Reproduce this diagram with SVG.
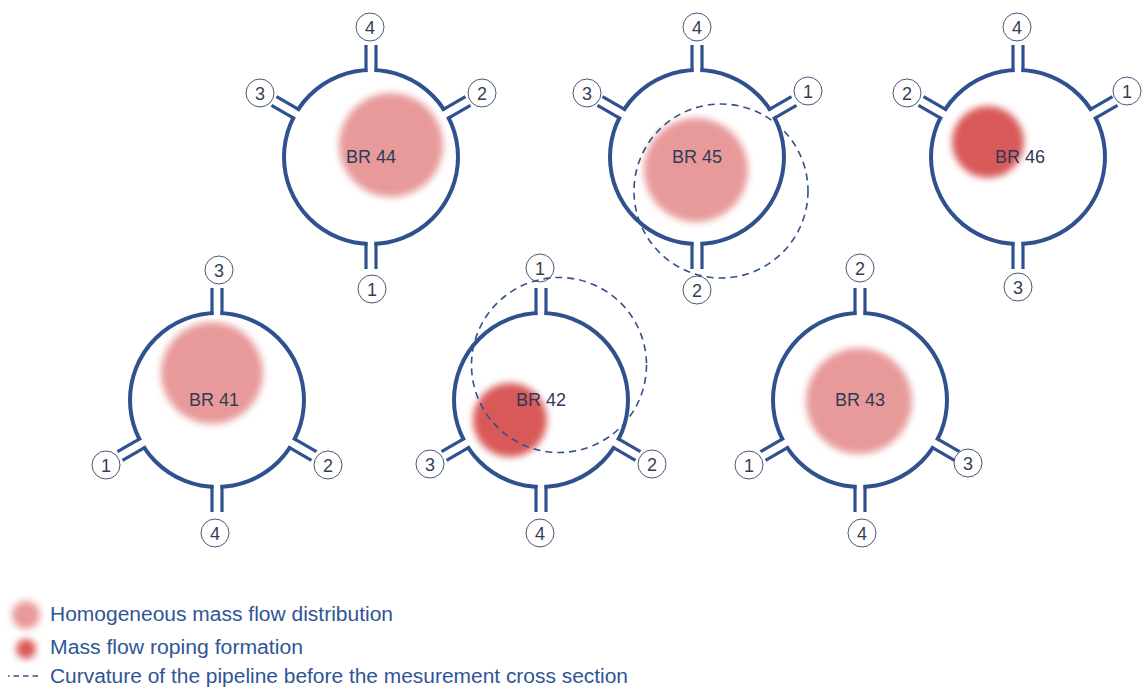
<svg xmlns="http://www.w3.org/2000/svg" xmlns:xlink="http://www.w3.org/1999/xlink" width="1143" height="688" viewBox="0 0 1143 688">
<style>
.pipe{fill:none;stroke:#2F528F;stroke-width:4}
.pl{stroke:#2F528F;stroke-width:3.2}
.lab{fill:#fff;stroke:#4A5677;stroke-width:1}
.num{font-family:"Liberation Sans",Arial,sans-serif;font-size:18px;fill:#333F50;text-anchor:middle}
.br{font-family:"Liberation Sans",Arial,sans-serif;font-size:18px;fill:#2E3A56;text-anchor:middle}
.homo{fill:#E89A9A;filter:url(#blur)}
.rope{fill:#D95858;filter:url(#blur)}
.curv{fill:none;stroke:#34508A;stroke-width:1.6;stroke-dasharray:7 5}
.leg{font-family:"Liberation Sans",Arial,sans-serif;font-size:19.5px;fill:#2F5597}
</style>
<defs>
<filter id="blur" x="-30%" y="-30%" width="160%" height="160%"><feGaussianBlur stdDeviation="3.5"/></filter>
<g id="port">
<rect x="-3.5" y="-93" width="7" height="12" fill="#fff"/>
<line class="pl" x1="-5" y1="-85" x2="-5" y2="-112"/>
<line class="pl" x1="5" y1="-85" x2="5" y2="-112"/>
</g>
</defs>
<rect width="1143" height="688" fill="#fff"/>

<g id="br44">
<circle class="homo" cx="391" cy="145" r="52"/>
<circle class="pipe" cx="371" cy="157" r="87"/>
<use xlink:href="#port" transform="translate(371,157)"/>
<use xlink:href="#port" transform="translate(371,157) rotate(60)"/>
<use xlink:href="#port" transform="translate(371,157) rotate(-60)"/>
<use xlink:href="#port" transform="translate(371,157) rotate(180)"/>
<circle class="lab" cx="370" cy="27" r="14"/><text class="num" x="370" y="33.5">4</text>
<circle class="lab" cx="482" cy="93" r="14"/><text class="num" x="482" y="99.5">2</text>
<circle class="lab" cx="260" cy="93" r="14"/><text class="num" x="260" y="99.5">3</text>
<circle class="lab" cx="372" cy="289" r="14"/><text class="num" x="372" y="295.5">1</text>
<text class="br" x="371" y="163">BR 44</text>
</g>

<g id="br45">
<circle class="homo" cx="696" cy="170" r="52"/>
<circle class="pipe" cx="697" cy="157" r="87"/>
<use xlink:href="#port" transform="translate(697,157)"/>
<use xlink:href="#port" transform="translate(697,157) rotate(60)"/>
<use xlink:href="#port" transform="translate(697,157) rotate(-60)"/>
<use xlink:href="#port" transform="translate(697,157) rotate(180)"/>
<circle class="lab" cx="697" cy="27" r="14"/><text class="num" x="697" y="33.5">4</text>
<circle class="lab" cx="808" cy="91" r="14"/><text class="num" x="808" y="97.5">1</text>
<circle class="lab" cx="587" cy="93" r="14"/><text class="num" x="587" y="99.5">3</text>
<circle class="lab" cx="697" cy="290" r="14"/><text class="num" x="697" y="296.5">2</text>
<text class="br" x="697" y="163">BR 45</text>
</g>

<g id="br46">
<circle class="rope" cx="988" cy="142" r="36"/>
<circle class="pipe" cx="1018" cy="157" r="87"/>
<use xlink:href="#port" transform="translate(1018,157)"/>
<use xlink:href="#port" transform="translate(1018,157) rotate(60)"/>
<use xlink:href="#port" transform="translate(1018,157) rotate(-60)"/>
<use xlink:href="#port" transform="translate(1018,157) rotate(180)"/>
<circle class="lab" cx="1017" cy="27" r="14"/><text class="num" x="1017" y="33.5">4</text>
<circle class="lab" cx="1127" cy="91" r="14"/><text class="num" x="1127" y="97.5">1</text>
<circle class="lab" cx="907" cy="93" r="14"/><text class="num" x="907" y="99.5">2</text>
<circle class="lab" cx="1018" cy="287" r="14"/><text class="num" x="1018" y="293.5">3</text>
<text class="br" x="1020" y="163">BR 46</text>
</g>

<g id="br41">
<circle class="homo" cx="212" cy="373" r="51"/>
<circle class="pipe" cx="217" cy="400" r="87"/>
<use xlink:href="#port" transform="translate(217,400)"/>
<use xlink:href="#port" transform="translate(217,400) rotate(120)"/>
<use xlink:href="#port" transform="translate(217,400) rotate(-120)"/>
<use xlink:href="#port" transform="translate(217,400) rotate(180)"/>
<circle class="lab" cx="219" cy="270" r="14"/><text class="num" x="219" y="276.5">3</text>
<circle class="lab" cx="328" cy="465" r="14"/><text class="num" x="328" y="471.5">2</text>
<circle class="lab" cx="106" cy="465" r="14"/><text class="num" x="106" y="471.5">1</text>
<circle class="lab" cx="215" cy="533" r="14"/><text class="num" x="215" y="539.5">4</text>
<text class="br" x="214" y="406">BR 41</text>
</g>

<g id="br42">
<circle class="rope" cx="510" cy="420" r="37"/>
<circle class="pipe" cx="541" cy="400" r="87"/>
<use xlink:href="#port" transform="translate(541,400)"/>
<use xlink:href="#port" transform="translate(541,400) rotate(120)"/>
<use xlink:href="#port" transform="translate(541,400) rotate(-120)"/>
<use xlink:href="#port" transform="translate(541,400) rotate(180)"/>
<circle class="lab" cx="540" cy="268" r="14"/><text class="num" x="540" y="274.5">1</text>
<circle class="lab" cx="652" cy="464" r="14"/><text class="num" x="652" y="470.5">2</text>
<circle class="lab" cx="430" cy="464" r="14"/><text class="num" x="430" y="470.5">3</text>
<circle class="lab" cx="540" cy="533" r="14"/><text class="num" x="540" y="539.5">4</text>
<text class="br" x="541" y="406">BR 42</text>
</g>

<g id="br43">
<circle class="homo" cx="859" cy="401" r="53"/>
<circle class="pipe" cx="860" cy="400" r="87"/>
<use xlink:href="#port" transform="translate(860,400)"/>
<use xlink:href="#port" transform="translate(860,400) rotate(120)"/>
<use xlink:href="#port" transform="translate(860,400) rotate(-120)"/>
<use xlink:href="#port" transform="translate(860,400) rotate(180)"/>
<circle class="lab" cx="860" cy="268" r="14"/><text class="num" x="860" y="274.5">2</text>
<circle class="lab" cx="968" cy="463" r="14"/><text class="num" x="968" y="469.5">3</text>
<circle class="lab" cx="749" cy="465" r="14"/><text class="num" x="749" y="471.5">1</text>
<circle class="lab" cx="862" cy="533" r="14"/><text class="num" x="862" y="539.5">4</text>
<text class="br" x="860" y="406">BR 43</text>
</g>

<g id="curvature">
<circle class="curv" cx="721" cy="191" r="87"/>
<circle class="curv" cx="559" cy="365" r="87.5"/>
</g>

<g id="legend">
<ellipse class="homo" cx="26" cy="615" rx="14" ry="14"/>
<circle class="rope" cx="26" cy="649" r="10"/>
<line x1="8" y1="676" x2="38" y2="676" stroke="#34508A" stroke-width="1.6" stroke-dasharray="5.5 4" stroke-dashoffset="4"/>
<text class="leg" x="50" y="621" textLength="343" lengthAdjust="spacingAndGlyphs">Homogeneous mass flow distribution</text>
<text class="leg" x="50" y="654" textLength="253" lengthAdjust="spacingAndGlyphs">Mass flow roping formation</text>
<text class="leg" x="50" y="683" textLength="578" lengthAdjust="spacingAndGlyphs">Curvature of the pipeline before the mesurement cross section</text>
</g>
</svg>
